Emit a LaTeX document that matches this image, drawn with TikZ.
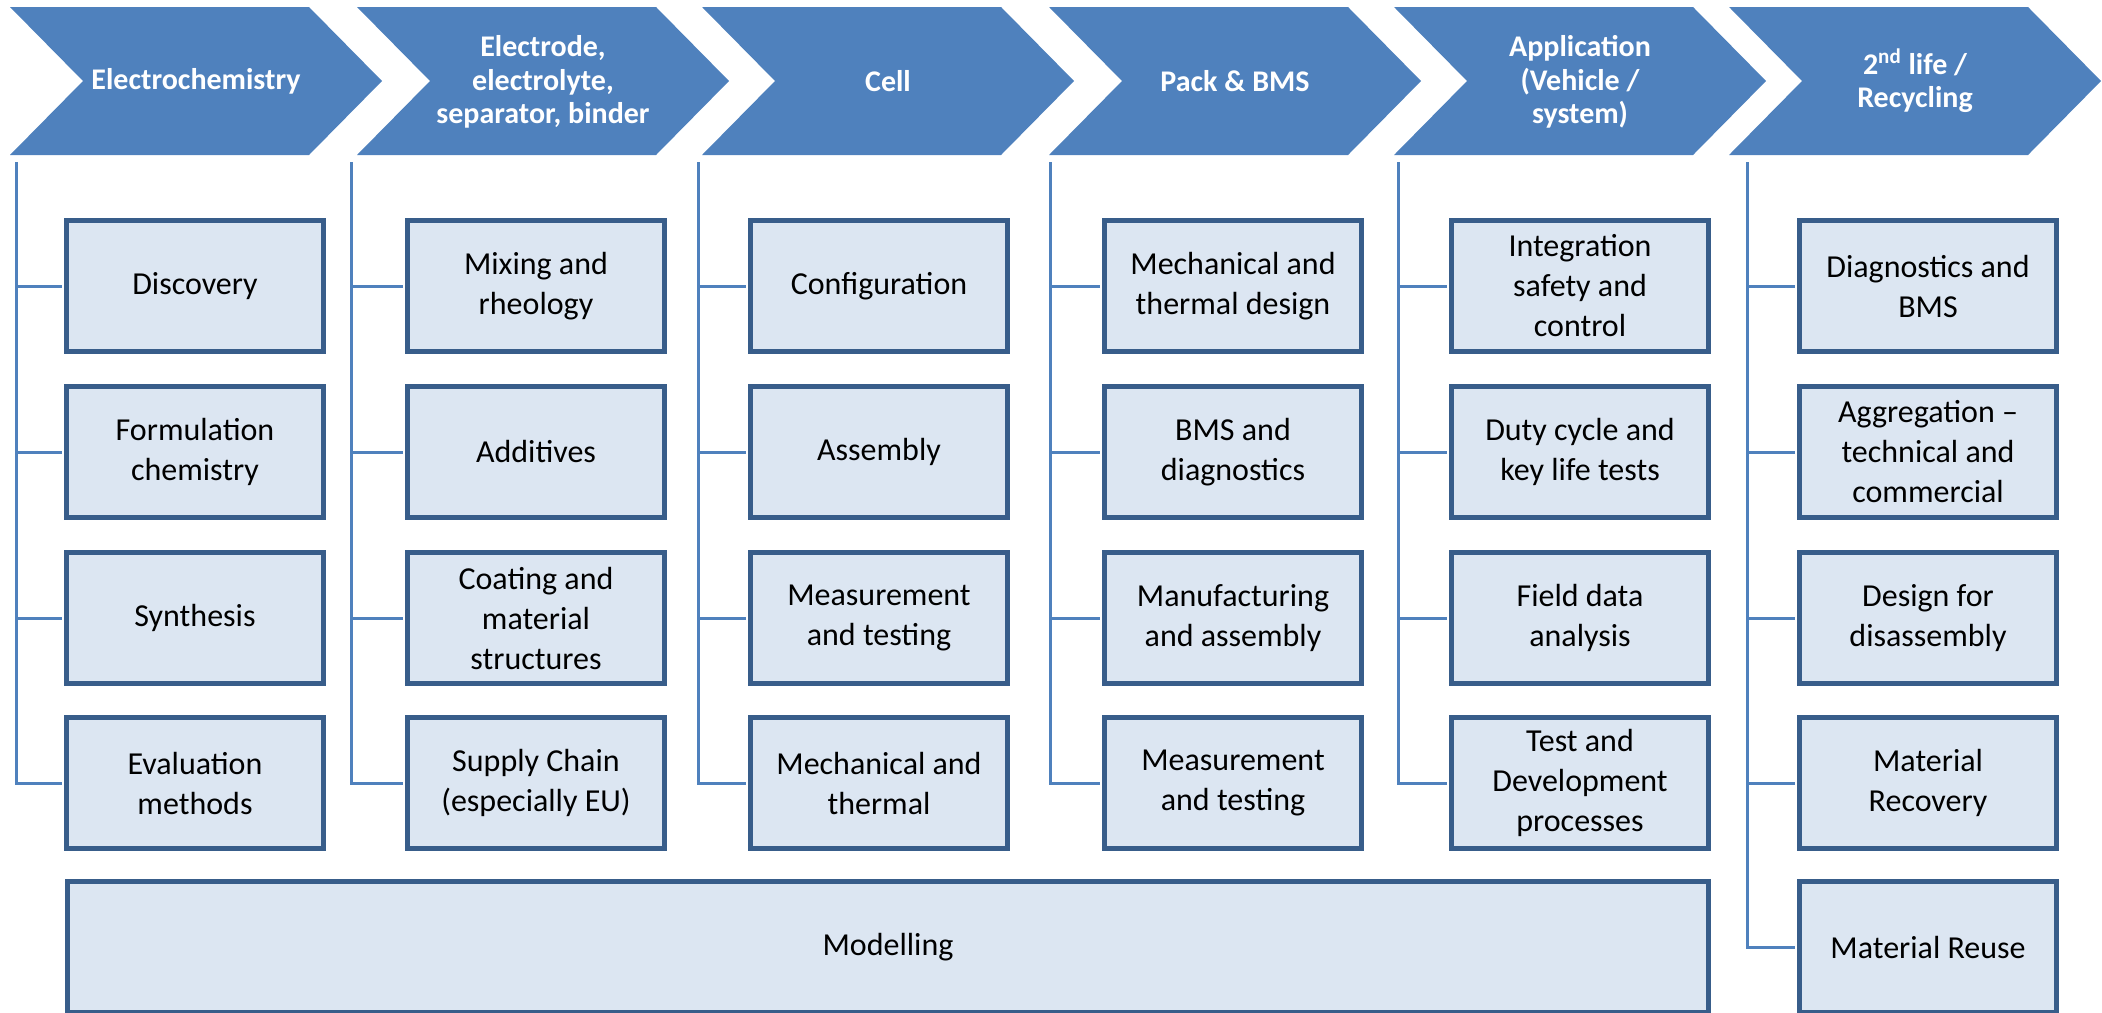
\documentclass[tikz,border=0pt]{standalone}
\usepackage{fontspec}
\setmainfont{Carlito}
\definecolor{chevblue}{HTML}{4F81BD}
\definecolor{boxfill}{HTML}{DCE6F2}
\definecolor{boxline}{HTML}{385D8A}
\tikzset{
  chev/.style={fill=chevblue},
  chevtext/.style={text=white,font=\bfseries\fontsize{15}{16.8}\selectfont,align=center},
  item/.style={draw=boxline,line width=2.5pt,fill=boxfill,minimum width=128.5pt,
    minimum height=65.5pt,inner sep=0pt,align=center,font=\fontsize{16}{20}\selectfont},
  branch/.style={draw=chevblue,line width=1.5pt,shorten >=1.25pt}
}
\begin{document}
\begin{tikzpicture}[x=0.5pt,y=-0.5pt]
      \useasboundingbox (0,0) rectangle (2102,1012);
      \path[chev]
        (10,7) -- ++(299,0) -- ++(73,74) -- ++(-73,74) -- ++(-299,0) -- ++(73,-74) -- cycle
        (357,7) -- ++(299,0) -- ++(73,74) -- ++(-73,74) -- ++(-299,0) -- ++(73,-74) -- cycle
        (702,7) -- ++(299,0) -- ++(73,74) -- ++(-73,74) -- ++(-299,0) -- ++(73,-74) -- cycle
        (1049,7) -- ++(299,0) -- ++(73,74) -- ++(-73,74) -- ++(-299,0) -- ++(73,-74) -- cycle
        (1394,7) -- ++(299,0) -- ++(73,74) -- ++(-73,74) -- ++(-299,0) -- ++(73,-74) -- cycle
        (1729,7) -- ++(299,0) -- ++(73,74) -- ++(-73,74) -- ++(-299,0) -- ++(73,-74) -- cycle;
      \path
        (196,81) node[chevtext] (elchem){Electrochemistry}
        (543,82) node[chevtext] (electrode){Electrode,\\electrolyte,\\separator, binder}
        (888,81) node[chevtext] (cell){Cell}
        (1235,81) node[chevtext] (pack){Pack \& BMS}
        (1580,82) node[chevtext] (appl){Application\\(Vehicle /\\system)}
        (1915,81) node[chevtext] (second){2\textsuperscript{nd} life /\\Recycling};
      \path
        (16,162) coordinate (l1)
        (351,162) coordinate (l2)
        (698,162) coordinate (l3)
        (1050,162) coordinate (l4)
        (1398,162) coordinate (l5)
        (1747,162) coordinate (l6);
      \path
        (195,286) node[item] (disc){Discovery}
        (195,452) node[item] (form){Formulation\\chemistry}
        (195,618) node[item] (synth){Synthesis}
        (195,783) node[item] (eval){Evaluation\\methods}
        (536,286) node[item] (mix){Mixing and\\rheology}
        (536,452) node[item] (addit){Additives}
        (536,618) node[item] (coat){Coating and\\material\\structures}
        (536,783) node[item] (supply){Supply Chain\\(especially EU)}
        (879,286) node[item] (config){Configuration}
        (879,452) node[item] (assem){Assembly}
        (879,618) node[item] (celltest){Measurement\\and testing}
        (879,783) node[item] (cellmech){Mechanical and\\thermal}
        (1233,286) node[item] (packmech){Mechanical and\\thermal design}
        (1233,452) node[item] (bms){BMS and\\diagnostics}
        (1233,618) node[item] (manuf){Manufacturing\\and assembly}
        (1233,783) node[item] (packtest){Measurement\\and testing}
        (1580,286) node[item] (integ){Integration\\safety and\\control}
        (1580,452) node[item] (duty){Duty cycle and\\key life tests}
        (1580,618) node[item] (field){Field data\\analysis}
        (1580,783) node[item] (devel){Test and\\Development\\processes}
        (1928,286) node[item] (diag){Diagnostics and\\BMS}
        (1928,452) node[item] (aggr){Aggregation --\\technical and\\commercial}
        (1928,618) node[item] (disas){Design for\\disassembly}
        (1928,783) node[item] (recov){Material\\Recovery}
        (1928,947) node[item] (reuse){Material Reuse}
        (888,947) node[item,minimum width=820.5pt] (model){Modelling};
      \begin{scope}[branch]
        \draw (l1) |- (disc.west);
        \draw (l1) |- (form.west);
        \draw (l1) |- (synth.west);
        \draw (l1) |- (eval.west);
        \draw (l2) |- (mix.west);
        \draw (l2) |- (addit.west);
        \draw (l2) |- (coat.west);
        \draw (l2) |- (supply.west);
        \draw (l3) |- (config.west);
        \draw (l3) |- (assem.west);
        \draw (l3) |- (celltest.west);
        \draw (l3) |- (cellmech.west);
        \draw (l4) |- (packmech.west);
        \draw (l4) |- (bms.west);
        \draw (l4) |- (manuf.west);
        \draw (l4) |- (packtest.west);
        \draw (l5) |- (integ.west);
        \draw (l5) |- (duty.west);
        \draw (l5) |- (field.west);
        \draw (l5) |- (devel.west);
        \draw (l6) |- (diag.west);
        \draw (l6) |- (aggr.west);
        \draw (l6) |- (disas.west);
        \draw (l6) |- (recov.west);
        \draw (l6) |- (reuse.west);
      \end{scope}
    \end{tikzpicture}
\end{document}
